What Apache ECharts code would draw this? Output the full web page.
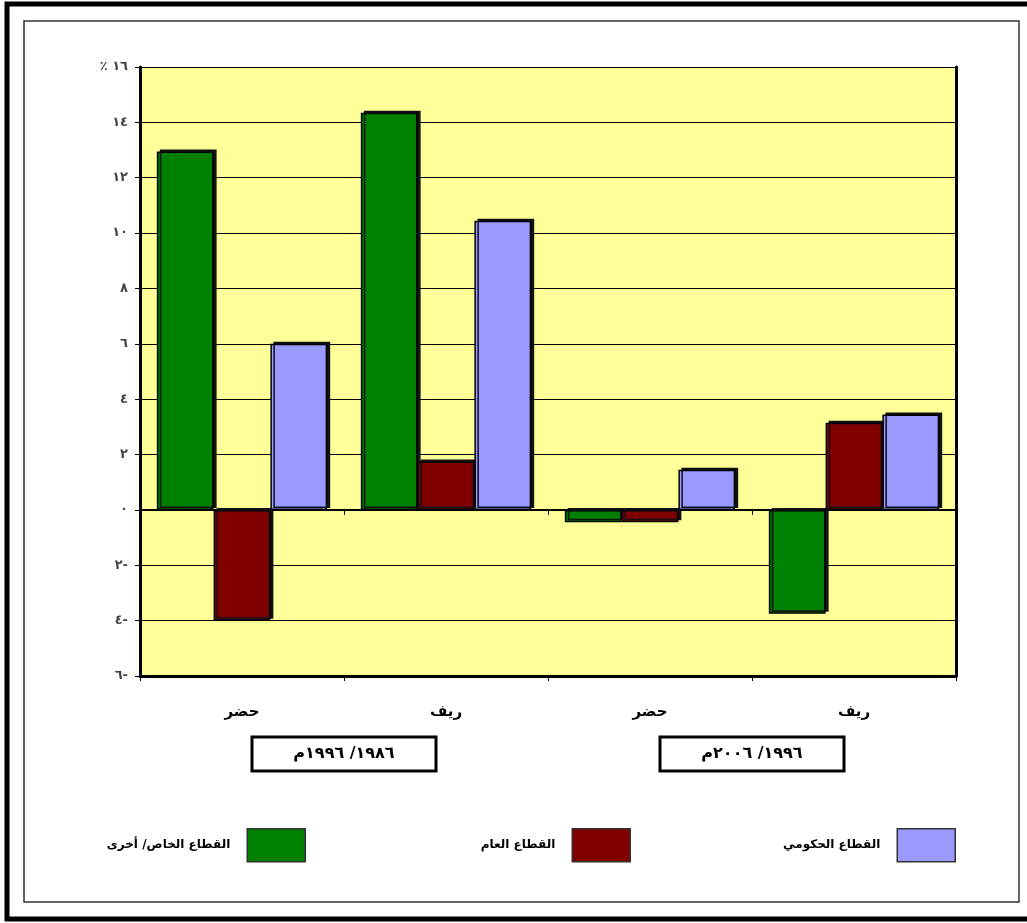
<!DOCTYPE html>
<html>
<head>
<meta charset="utf-8">
<script src="https://cdn.jsdelivr.net/npm/echarts@6/dist/echarts.min.js"></script>
<style>
html,body{margin:0;padding:0;background:#fff;}
#chart{width:1027px;height:923px;}
</style>
</head>
<body>
<div id="chart"></div>
<script>
// ---- data ----
var categories = ['حضر', 'ريف', 'حضر', 'ريف'];
var periods = ['١٩٨٦/ ١٩٩٦م', '١٩٩٦/ ٢٠٠٦م'];
var seriesNames = ['القطاع الخاص/ أخرى', 'القطاع العام', 'القطاع الحكومي'];
var privateOther = [12.95, 14.35, -0.45, -3.75];
var publicSector = [-4.0, 1.75, -0.45, 3.15];
var government = [6.0, 10.45, 1.45, 3.45];
var yTickValues = [-6, -4, -2, 0, 2, 4, 6, 8, 10, 12, 14, 16];
var yTickLabels = ['٦-', '٤-', '٢-', '٠', '٢', '٤', '٦', '٨', '١٠', '١٢', '١٤', '٪ ١٦'];

var colors = ['#008000', '#800000', '#9999FF'];
var FONT = 'DejaVu Sans';

var chart = echarts.init(document.getElementById('chart'), null, {renderer: 'canvas'});

function barSeries(name, data, color) {
  return {
    name: name,
    type: 'bar',
    data: data,
    xAxisIndex: 0,
    yAxisIndex: 0,
    barGap: '0%',
    barCategoryGap: '16.5%',
    itemStyle: {
      color: color,
      borderColor: '#000',
      borderWidth: 1.5,
      shadowColor: '#111',
      shadowBlur: 0,
      shadowOffsetX: 3,
      shadowOffsetY: -2
    },
    emphasis: {disabled: true}
  };
}

function legendFor(i, right) {
  return {
    data: [seriesNames[i]],
    right: right,
    top: 823,
    orient: 'horizontal',
    align: 'right',
    itemWidth: 58,
    itemHeight: 33,
    icon: 'rect',
    selectedMode: false,
    itemStyle: {borderColor: '#333', borderWidth: 1.5, shadowBlur: 0, shadowOffsetX: 0, shadowOffsetY: 0},
    textStyle: {fontFamily: FONT, fontSize: 12, fontWeight: 'bold', color: '#000', padding: [0, 12, 0, 0]}
  };
}

var option = {
  backgroundColor: '#ffffff',
  animation: false,
  grid: {
    left: 140, right: 71, top: 67, bottom: 247,
    show: true,
    backgroundColor: '#FFFF99',
    borderWidth: 0
  },
  legend: [legendFor(0, 716), legendFor(1, 391), legendFor(2, 66)],
  xAxis: [
    {
      type: 'category',
      data: categories,
      position: 'bottom',
      axisLine: {show: true, onZero: false, lineStyle: {color: '#000', width: 3}},
      axisTick: {show: true, length: 5, lineStyle: {color: '#000', width: 1}},
      axisLabel: {
        margin: 29,
        fontFamily: FONT, fontSize: 15, fontWeight: 'bold', color: '#000'
      },
      splitLine: {show: false}
    },
    {
      type: 'category',
      data: categories,
      position: 'top',
      axisLine: {show: true, onZero: true, lineStyle: {color: '#000', width: 2}},
      axisTick: {show: true, inside: true, length: 5, lineStyle: {color: '#000', width: 1}},
      axisLabel: {show: false},
      splitLine: {show: false}
    }
  ],
  yAxis: [
    {
      type: 'value',
      min: -6, max: 16, interval: 2,
      position: 'left',
      axisLine: {show: true, onZero: false, lineStyle: {color: '#000', width: 3}},
      axisTick: {show: true, length: 5, lineStyle: {color: '#000', width: 1}},
      axisLabel: {
        margin: 12,
        fontFamily: FONT, fontSize: 13, fontWeight: 'bold', color: '#444',
        formatter: function (v) {
          var i = yTickValues.indexOf(Math.round(v));
          return i >= 0 ? yTickLabels[i] : '';
        }
      },
      splitLine: {show: true, lineStyle: {color: '#000', width: 1}}
    },
    {
      type: 'value',
      min: -6, max: 16, interval: 2,
      position: 'right',
      axisLine: {show: true, onZero: false, lineStyle: {color: '#000', width: 3}},
      axisTick: {show: false},
      axisLabel: {show: false},
      splitLine: {show: false}
    }
  ],
  series: [
    barSeries(seriesNames[0], privateOther, colors[0]),
    barSeries(seriesNames[1], publicSector, colors[1]),
    barSeries(seriesNames[2], government, colors[2])
  ],
  graphic: [
    {
      id: 'outerFrame', type: 'rect', silent: true,
      shape: {x: 7, y: 4, width: 1040, height: 915},
      style: {fill: 'none', stroke: '#000', lineWidth: 5}
    },
    {
      id: 'innerFrame', type: 'rect', silent: true,
      shape: {x: 24, y: 21, width: 995, height: 881},
      style: {fill: 'none', stroke: '#333', lineWidth: 1.5}
    }
  ]
};

chart.setOption(option);

// group boxes under each pair of categories
var boxGraphics = [];
for (var p = 0; p < periods.length; p++) {
  var x1 = chart.convertToPixel({xAxisIndex: 0}, p * 2);
  var x2 = chart.convertToPixel({xAxisIndex: 0}, p * 2 + 1);
  var cx = (x1 + x2) / 2;
  boxGraphics.push({
    id: 'box' + p, type: 'rect', silent: true,
    shape: {x: cx - 92, y: 737, width: 184, height: 34},
    style: {fill: '#fff', stroke: '#000', lineWidth: 3}
  });
  boxGraphics.push({
    id: 'boxText' + p, type: 'text', silent: true,
    x: cx, y: 754,
    style: {
      text: periods[p], fill: '#000',
      font: 'bold 16px "' + FONT + '"',
      align: 'center', verticalAlign: 'middle'
    }
  });
}
chart.setOption({graphic: boxGraphics});
</script>
</body>
</html>
